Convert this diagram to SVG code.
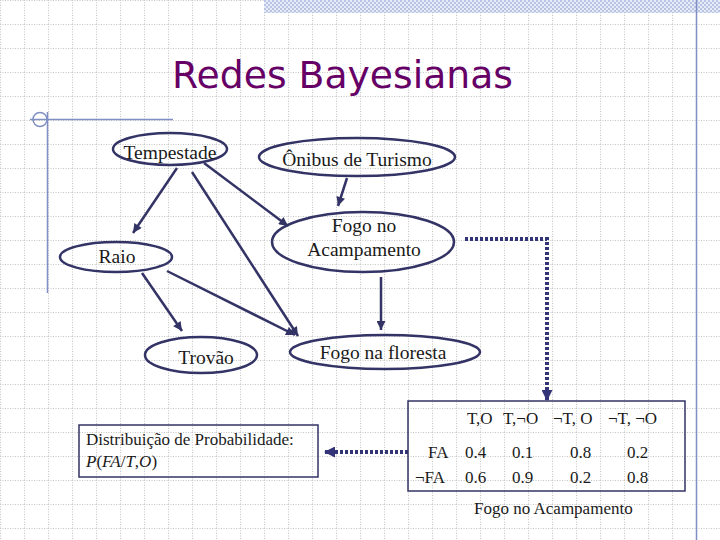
<svg xmlns="http://www.w3.org/2000/svg" width="720" height="540" viewBox="0 0 720 540">
<defs>
<pattern id="grid" width="24" height="24" patternUnits="userSpaceOnUse">
<path d="M0 0.5 H24 M0.5 0 V24" fill="none" stroke="#c4c4c4" stroke-width="1" stroke-dasharray="1 1.5"/>
</pattern>
<pattern id="check" width="4" height="4" patternUnits="userSpaceOnUse">
<rect width="4" height="4" fill="#e6ebf7"/>
<rect width="2" height="2" fill="#b8c4e4"/>
<rect x="2" y="2" width="2" height="2" fill="#b8c4e4"/>
</pattern>
<marker id="arr" viewBox="0 0 10 10" refX="10" refY="5" markerWidth="11" markerHeight="9" markerUnits="userSpaceOnUse" orient="auto">
<path d="M0,0 L10,5 L0,10 z" fill="#333366"/>
</marker>
<marker id="arrd" viewBox="0 0 10 10" refX="10" refY="5" markerWidth="11" markerHeight="11" markerUnits="userSpaceOnUse" orient="auto">
<path d="M0,0 L10,5 L0,10 z" fill="#333377"/>
</marker>
</defs>
<style>
.node{fill:none;stroke:#333366;stroke-width:2.5}
.lbl{font-family:"Liberation Serif","Times New Roman",serif;font-size:19.5px;fill:#1a1a1a;text-anchor:middle}
.tbl{font-family:"Liberation Serif","Times New Roman",serif;font-size:17px;fill:#1a1a1a}
.edge{stroke:#333366;stroke-width:2.5;fill:none;marker-end:url(#arr)}
.dot{stroke:#333377;stroke-width:4;fill:none;stroke-dasharray:3 2;marker-end:url(#arrd)}
.deco{stroke:#7f8fc4;stroke-width:1.5;fill:none}
</style>
<rect width="720" height="540" fill="#ffffff"/>
<rect width="720" height="540" fill="url(#grid)"/>
<rect x="264" y="0" width="456" height="13" fill="url(#check)"/>
<line class="deco" x1="696.5" y1="0" x2="696.5" y2="540"/>
<line class="deco" x1="30" y1="119.5" x2="173" y2="119.5"/>
<line class="deco" x1="47.5" y1="112" x2="47.5" y2="293"/>
<circle class="deco" cx="40" cy="119.5" r="7" stroke-width="1"/>
<text x="172" y="88" font-family="'DejaVu Sans',Verdana,sans-serif" font-size="37" fill="#660066" textLength="341" lengthAdjust="spacingAndGlyphs">Redes Bayesianas</text>
<g id="edges">
<line class="edge" x1="177" y1="168" x2="133" y2="233"/>
<line class="edge" x1="192" y1="172" x2="298" y2="336"/>
<line class="edge" x1="204" y1="163" x2="288" y2="226"/>
<line class="edge" x1="347" y1="178" x2="338" y2="206"/>
<line class="edge" x1="142" y1="273" x2="182" y2="331"/>
<line class="edge" x1="167" y1="271" x2="295" y2="335"/>
<line class="edge" x1="381" y1="277" x2="381" y2="330"/>
<polyline class="dot" points="465,239 547,239 547,401"/>
<line class="dot" x1="408" y1="452" x2="324" y2="452"/>
</g>
<g id="tempestade">
<ellipse class="node" cx="170" cy="149" rx="57" ry="16"/>
<text class="lbl" x="170" y="159">Tempestade</text>
</g>
<g id="onibus">
<ellipse class="node" cx="357" cy="157" rx="98" ry="19"/>
<text class="lbl" x="357" y="166">Ônibus de Turismo</text>
</g>
<g id="fogo-acampamento">
<ellipse class="node" cx="363" cy="242" rx="91" ry="30"/>
<text class="lbl" x="364" y="232">Fogo no</text>
<text class="lbl" x="364" y="256">Acampamento</text>
</g>
<g id="raio">
<ellipse class="node" cx="116" cy="257" rx="56" ry="15"/>
<text class="lbl" x="117" y="263">Raio</text>
</g>
<g id="trovao">
<ellipse class="node" cx="201" cy="355" rx="56" ry="18"/>
<text class="lbl" x="206" y="364">Trovão</text>
</g>
<g id="fogo-floresta">
<ellipse class="node" cx="385" cy="352" rx="95" ry="17"/>
<text class="lbl" x="383" y="359">Fogo na floresta</text>
</g>
<g id="distribuicao">
<rect x="79" y="425" width="239" height="52" fill="none" stroke="#333366" stroke-width="1.5"/>
<text class="tbl" x="86" y="445">Distribuição de Probabilidade:</text>
<text class="tbl" x="86" y="467"><tspan font-style="italic">P</tspan>(<tspan font-style="italic">FA</tspan>/<tspan font-style="italic">T</tspan>,<tspan font-style="italic">O</tspan>)</text>
</g>
<g id="tabela">
<rect x="408" y="401" width="277" height="90" fill="none" stroke="#333366" stroke-width="1.5"/>
<text class="tbl" x="467" y="424">T,O</text>
<text class="tbl" x="503" y="424">T,¬O</text>
<text class="tbl" x="553" y="424">¬T, O</text>
<text class="tbl" x="608" y="424">¬T, ¬O</text>
<text class="tbl" x="428" y="458">FA</text>
<text class="tbl" x="465" y="458">0.4</text>
<text class="tbl" x="512" y="458">0.1</text>
<text class="tbl" x="570" y="458">0.8</text>
<text class="tbl" x="627" y="458">0.2</text>
<text class="tbl" x="415" y="483">¬FA</text>
<text class="tbl" x="465" y="483">0.6</text>
<text class="tbl" x="512" y="483">0.9</text>
<text class="tbl" x="570" y="483">0.2</text>
<text class="tbl" x="627" y="483">0.8</text>
<text class="tbl" x="474" y="514" font-size="17.5">Fogo no Acampamento</text>
</g>
</svg>
